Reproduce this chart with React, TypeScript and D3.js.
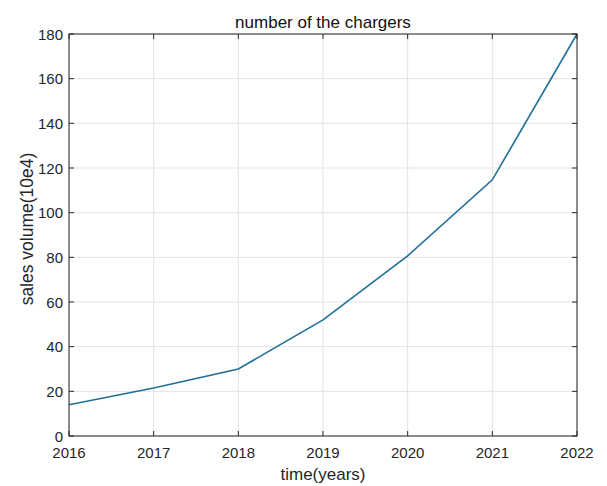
import React from "react";
import * as d3 from "d3";

const years = [2016, 2017, 2018, 2019, 2020, 2021, 2022];
const values = [14, 21.5, 30, 52, 80.7, 114.7, 180];
const yTicks = [0, 20, 40, 60, 80, 100, 120, 140, 160, 180];
const titleText = "number of the chargers";
const xLabel = "time(years)";
const yLabel = "sales volume(10e4)";

export default function App() {
  const W = 607, H = 486;
  const L = 69, R = 577, T = 34, B = 436;
  const x = d3.scaleLinear().domain([2016, 2022]).range([L, R]);
  const y = d3.scaleLinear().domain([0, 180]).range([B, T]);
  const line = d3.line<number>().x((_, i) => x(years[i])).y((d) => y(d));
  const axisColor = "#262626";
  const font = "'Liberation Sans', Arial, sans-serif";
  return (
    <svg width={W} height={H} style={{ position: "absolute", left: 0, top: 0, background: "#fff" }}>
      <rect x={0} y={0} width={W} height={H} fill="#fff" />
      {years.map((yr) => (
        <line key={"gx" + yr} x1={x(yr)} x2={x(yr)} y1={T} y2={B} stroke="#e3e3e3" strokeWidth={1} />
      ))}
      {yTicks.map((v) => (
        <line key={"gy" + v} x1={L} x2={R} y1={y(v)} y2={y(v)} stroke="#e3e3e3" strokeWidth={1} />
      ))}
      <path d={line(values) || ""} fill="none" stroke="#1f6f98" strokeWidth={1.6} />
      <rect x={L} y={T} width={R - L} height={B - T} fill="none" stroke={axisColor} strokeWidth={1} />
      {years.map((yr) => (
        <g key={"tx" + yr}>
          <line x1={x(yr)} x2={x(yr)} y1={B} y2={B - 5} stroke={axisColor} />
          <line x1={x(yr)} x2={x(yr)} y1={T} y2={T + 5} stroke={axisColor} />
          <text x={x(yr)} y={458} textAnchor="middle" fontSize={15} fill={axisColor} fontFamily={font}>
            {yr}
          </text>
        </g>
      ))}
      {yTicks.map((v) => (
        <g key={"ty" + v}>
          <line x1={L} x2={L + 5} y1={y(v)} y2={y(v)} stroke={axisColor} />
          <line x1={R} x2={R - 5} y1={y(v)} y2={y(v)} stroke={axisColor} />
          <text x={63} y={y(v) + 5.5} textAnchor="end" fontSize={15} fill={axisColor} fontFamily={font}>
            {v}
          </text>
        </g>
      ))}
      <text x={(L + R) / 2} y={28} textAnchor="middle" fontSize={17} fill="#111" fontFamily={font}>
        {titleText}
      </text>
      <text x={(L + R) / 2} y={480} textAnchor="middle" fontSize={17} fill={axisColor} fontFamily={font}>
        {xLabel}
      </text>
      <text
        transform={`translate(33, ${(T + B) / 2 - 6}) rotate(-90)`}
        textAnchor="middle"
        fontSize={17.5}
        fill={axisColor}
        fontFamily={font}
      >
        {yLabel}
      </text>
    </svg>
  );
}
